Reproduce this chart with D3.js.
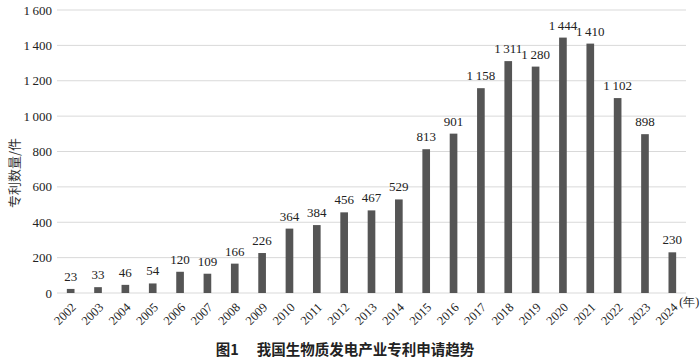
<!DOCTYPE html>
<html>
<head>
<meta charset="utf-8">
<script src="https://cdn.jsdelivr.net/npm/d3@7"></script>
<style>
body { margin: 0; background: #fff; }
svg { display: block; }
</style>
</head>
<body>
<svg width="700" height="362"></svg>
<script>
const years = ["2002","2003","2004","2005","2006","2007","2008","2009","2010","2011","2012","2013",
  "2014","2015","2016","2017","2018","2019","2020","2021","2022","2023","2024"];
const patents = [23,33,46,54,120,109,166,226,364,384,456,467,529,813,901,1158,1311,1280,1444,1410,1102,898,230];
const yTicks = [0,200,400,600,800,1000,1200,1400,1600];

const svg = d3.select("svg");
const serif = "'Liberation Serif','Times New Roman',serif";
const margin = {left: 57, right: 14, top: 10, bottom: 69};
const width = +svg.attr("width");
const height = +svg.attr("height");

// thin space thousands separator, like the original
const fmt = v => v >= 1000 ? Math.floor(v / 1000) + "\u2009" + String(v % 1000).padStart(3, "0") : String(v);

const x = d3.scaleBand().domain(years).range([margin.left, width - margin.right]).paddingInner(0.72).paddingOuter(0.36);
const y = d3.scaleLinear().domain([0, 1600]).range([height - margin.bottom, margin.top]);

// grid
svg.append("g").selectAll("line")
  .data(yTicks).enter().append("line")
  .attr("x1", margin.left).attr("x2", width - margin.right)
  .attr("y1", d => y(d)).attr("y2", d => y(d))
  .attr("stroke", "#d9d9d9").attr("stroke-width", 1);

// y labels
svg.append("g").selectAll("text")
  .data(yTicks).enter().append("text")
  .attr("x", margin.left - 5).attr("y", d => y(d)).attr("dy", "0.35em")
  .attr("text-anchor", "end")
  .style("font-family", serif).style("font-size", "13px").attr("fill", "#222")
  .text(fmt);

// bars
svg.append("g").selectAll("rect")
  .data(patents).enter().append("rect")
  .attr("x", (d, i) => x(years[i]))
  .attr("width", x.bandwidth())
  .attr("y", d => y(d))
  .attr("height", d => y(0) - y(d))
  .attr("fill", "#555");

// value labels
svg.append("g").selectAll("text")
  .data(patents).enter().append("text")
  .attr("x", (d, i) => x(years[i]) + x.bandwidth() / 2)
  .attr("y", d => y(d) - 8)
  .attr("text-anchor", "middle")
  .style("font-family", serif).style("font-size", "13px").attr("fill", "#222")
  .text(fmt);

// x labels, rotated
svg.append("g").selectAll("text")
  .data(years).enter().append("text")
  .attr("transform", d => `translate(${x(d) + x.bandwidth() / 2 + 3},${y(0) + 12}) rotate(-45)`)
  .attr("text-anchor", "end").attr("dy", "0.35em")
  .style("font-family", serif).style("font-size", "12.5px").attr("fill", "#222")
  .text(d => d);

svg.append("text")
  .attr("x", x("2024") + x.bandwidth() / 2 + 7).attr("y", y(0) + 13)
  .attr("text-anchor", "start")
  .style("font-family", serif).style("font-size", "12px").attr("fill", "#222")
  .text("(年)");

// y axis title
svg.append("text")
  .attr("transform", `translate(14,173) rotate(-90)`)
  .attr("text-anchor", "middle").attr("dy", "0.35em")
  .style("font-family", "'Noto Sans CJK SC',serif").style("font-size", "13px").attr("fill", "#333")
  .text("专利数量/件");

// caption
svg.append("text")
  .attr("x", 345).attr("y", 355)
  .attr("text-anchor", "middle")
  .style("font-family", "'Noto Sans CJK SC',sans-serif").style("font-size", "14.5px")
  .style("font-weight", "600").attr("fill", "#222")
  .attr("xml:space", "preserve")
  .text("图1　 我国生物质发电产业专利申请趋势");
</script>
</body>
</html>
